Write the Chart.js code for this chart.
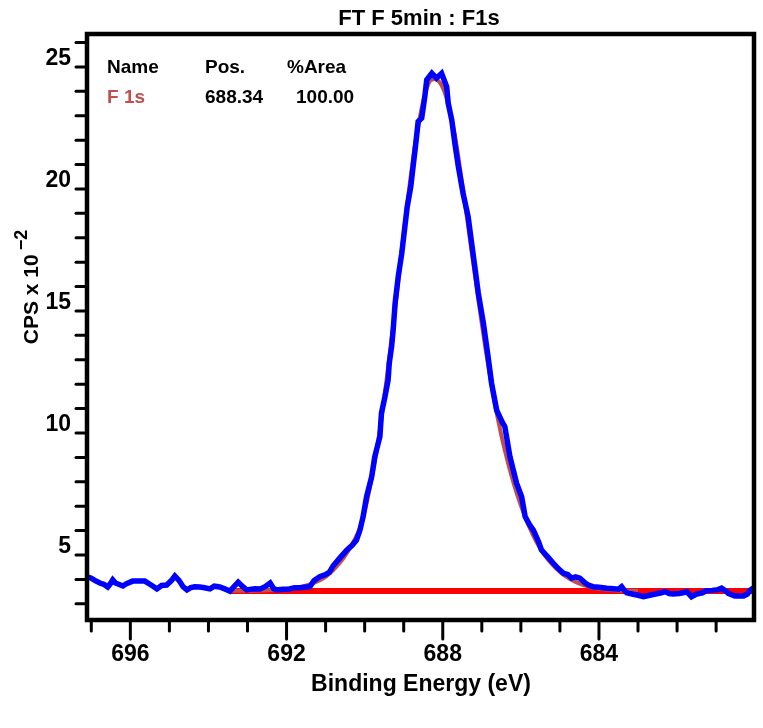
<!DOCTYPE html>
<html lang="en">
<head>
    <meta charset="UTF-8">
    <title>FT F 5min : F1s</title>
    <script src="https://cdn.jsdelivr.net/npm/chart.js@4.4.0/dist/chart.umd.min.js"></script>
    <style>
        body {
            margin: 0;
            background: #ffffff;
        }
        .chart-box {
            position: relative;
            width: 763px;
            height: 728px;
        }
    </style>
</head>
<body>
    <div class="chart-box">
        <canvas id="xpsChart"></canvas>
    </div>

    <script>
        // measured spectrum (blue)
        const energy = [
            697.10, 697.00, 696.90, 696.78, 696.68, 696.58, 696.50, 696.45, 696.38, 696.30,
            696.19, 696.10, 695.94, 695.80, 695.63, 695.50, 695.40, 695.32, 695.20, 695.07,
            694.95, 694.86, 694.75, 694.65, 694.55, 694.45, 694.35, 694.22, 694.10, 693.96,
            693.85, 693.71, 693.60, 693.45, 693.35, 693.24, 693.12, 693.02, 692.90, 692.80,
            692.68, 692.55, 692.42, 692.33, 692.25, 692.10, 691.92, 691.80, 691.65, 691.50,
            691.40, 691.30, 691.15, 691.00, 690.90, 690.81, 690.65, 690.46, 690.32, 690.21,
            690.12, 690.04, 689.95, 689.82, 689.74, 689.61, 689.57, 689.48, 689.40, 689.37,
            689.31, 689.27, 689.22, 689.14, 689.05, 688.97, 688.91, 688.82, 688.76, 688.69,
            688.63, 688.54, 688.46, 688.41, 688.28, 688.16, 688.03, 687.90, 687.86, 687.77,
            687.69, 687.60, 687.48, 687.35, 687.26, 687.18, 687.09, 686.96, 686.84, 686.75,
            686.62, 686.48, 686.41, 686.28, 686.11, 685.98, 685.89, 685.78, 685.68, 685.55,
            685.47, 685.30, 685.17, 685.05, 684.91, 684.80, 684.70, 684.60, 684.49, 684.35,
            684.25, 684.15, 684.00, 683.80, 683.62, 683.50, 683.42, 683.35, 683.29, 683.15,
            683.00, 682.86, 682.70, 682.55, 682.40, 682.31, 682.20, 682.10, 681.95, 681.85,
            681.75, 681.63, 681.50, 681.35, 681.24, 681.10, 680.95, 680.86, 680.75, 680.69,
            680.52, 680.40, 680.30, 680.20, 680.13, 680.05
        ];
        const cps = [
            4.10, 4.05, 3.95, 3.85, 3.80, 3.69, 3.85, 3.98, 3.85, 3.80,
            3.73, 3.82, 3.93, 3.93, 3.93, 3.80, 3.70, 3.61, 3.75, 3.77,
            3.95, 4.14, 3.95, 3.70, 3.57, 3.66, 3.70, 3.69, 3.66, 3.61,
            3.72, 3.69, 3.62, 3.52, 3.70, 3.89, 3.70, 3.57, 3.60, 3.62,
            3.61, 3.70, 3.85, 3.62, 3.57, 3.60, 3.61, 3.66, 3.66, 3.69,
            3.70, 3.95, 4.11, 4.20, 4.30, 4.55, 4.85, 5.20, 5.40, 5.61,
            6.02, 6.57, 7.39, 8.21, 9.03, 9.85, 10.81, 11.49, 12.17, 12.86,
            13.54, 14.22, 15.32, 16.41, 17.36, 18.45, 19.27, 20.09, 20.91, 21.87,
            22.76, 22.90, 23.78, 24.47, 24.74, 24.54, 24.74, 24.19, 23.51, 22.83,
            21.87, 20.91, 19.82, 18.86, 17.77, 16.82, 15.73, 14.50, 13.13, 12.04,
            10.94, 10.45, 10.26, 9.03, 7.94, 7.39, 6.57, 6.25, 6.02, 5.55,
            5.20, 4.90, 4.66, 4.45, 4.25, 4.20, 4.05, 4.10, 4.05, 3.85,
            3.75, 3.70, 3.68, 3.64, 3.62, 3.60, 3.70, 3.55, 3.45, 3.40,
            3.35, 3.29, 3.35, 3.40, 3.45, 3.50, 3.42, 3.40, 3.42, 3.45,
            3.50, 3.29, 3.40, 3.45, 3.54, 3.55, 3.58, 3.64, 3.52, 3.43,
            3.32, 3.32, 3.32, 3.40, 3.56, 3.65
        ];

        // fitted F 1s component
        const fitEnergy = [
            693.45, 692.50, 691.80, 691.40, 691.00, 690.60, 690.30, 690.10, 689.90, 689.70,
            689.50, 689.30, 689.10, 688.90, 688.70, 688.50, 688.34, 688.20, 688.05, 687.90,
            687.70, 687.50, 687.30, 687.10, 686.90, 686.70, 686.50, 686.30, 686.10, 685.90,
            685.70, 685.50, 685.30, 685.10, 684.90, 684.60, 684.30, 684.00, 683.60, 683.00
        ];
        const fitCps = [
            3.53, 3.56, 3.65, 3.80, 4.10, 4.75, 5.50, 6.20, 7.50, 9.20,
            11.40, 14.00, 16.80, 19.50, 21.90, 23.60, 24.40, 24.50, 24.30, 23.70,
            22.30, 20.20, 17.90, 15.60, 13.40, 11.50, 9.90, 8.60, 7.50, 6.60,
            5.85, 5.25, 4.80, 4.45, 4.18, 3.90, 3.72, 3.62, 3.56, 3.53
        ];

        // background line
        const bgEnergy = [693.45, 680.03];
        const bgCps = [3.52, 3.52];

        const xTickValues = [697, 696, 695, 694, 693, 692, 691, 690, 689, 688, 687, 686, 685, 684, 683, 682, 681];
        const xLabelValues = [696, 692, 688, 684];
        const yTickValues = [3, 4, 5, 6, 7, 8, 9, 10, 11, 12, 13, 14, 15, 16, 17, 18, 19, 20, 21, 22, 23, 24, 25, 26];
        const yLabelValues = [5, 10, 15, 20, 25];

        const legendHeaders = ['Name', 'Pos.', '%Area'];
        const peakNames = ['F 1s'];
        const peakPositions = ['688.34'];
        const peakAreas = ['100.00'];

        const chartTitle = 'FT F 5min : F1s';
        const xTitle = 'Binding Energy (eV)';
        const yTitle = 'CPS x 10';
        const yTitleExp = '\u22122';

        const FONT = '"Liberation Sans", Arial, sans-serif';

        function toPoints(xs, ys) {
            return xs.map((x, i) => ({ x: x, y: ys[i] }));
        }

        // frame, tick marks, titles and peak table
        const decorations = {
            id: 'decorations',
            afterDraw(chart) {
                const ctx = chart.ctx;
                const area = chart.chartArea;
                const xs = chart.scales.x;
                const ys = chart.scales.y;

                ctx.save();
                ctx.strokeStyle = '#000';
                ctx.lineCap = 'round';
                ctx.lineWidth = 3;

                xTickValues.forEach(v => {
                    const px = xs.getPixelForValue(v);
                    const len = xLabelValues.includes(v) ? 19 : 11;
                    ctx.beginPath();
                    ctx.moveTo(px, area.bottom);
                    ctx.lineTo(px, area.bottom + len);
                    ctx.stroke();
                });
                yTickValues.forEach(v => {
                    const py = ys.getPixelForValue(v);
                    ctx.beginPath();
                    ctx.moveTo(area.left, py);
                    ctx.lineTo(area.left - 11, py);
                    ctx.stroke();
                });

                ctx.lineCap = 'square';
                ctx.lineWidth = 4.5;
                ctx.strokeRect(area.left, area.top, area.right - area.left, area.bottom - area.top);

                ctx.fillStyle = '#000';
                ctx.textBaseline = 'alphabetic';

                // main title
                ctx.font = 'bold 22px ' + FONT;
                ctx.textAlign = 'center';
                ctx.fillText(chartTitle, 419, 25);

                // x title
                ctx.font = 'bold 23px ' + FONT;
                ctx.fillText(xTitle, 421, 691);

                // y title with exponent
                ctx.save();
                ctx.translate(38, 287);
                ctx.rotate(-Math.PI / 2);
                ctx.font = 'bold 21px ' + FONT;
                const w1 = ctx.measureText(yTitle).width;
                ctx.font = 'bold 18px ' + FONT;
                const w2 = ctx.measureText(yTitleExp).width;
                const start = -(w1 + w2 + 4) / 2;
                ctx.textAlign = 'left';
                ctx.font = 'bold 21px ' + FONT;
                ctx.fillText(yTitle, start, 0);
                ctx.font = 'bold 18px ' + FONT;
                ctx.fillText(yTitleExp, start + w1 + 4, -11);
                ctx.restore();

                // peak table
                ctx.textAlign = 'left';
                ctx.font = 'bold 19px ' + FONT;
                const cols = [107, 205, 287];
                legendHeaders.forEach((h, i) => ctx.fillText(h, cols[i], 73));
                peakNames.forEach((name, r) => {
                    const y = 103 + r * 30;
                    ctx.fillStyle = '#c0504d';
                    ctx.fillText(name, cols[0], y);
                    ctx.fillStyle = '#000';
                    ctx.fillText(peakPositions[r], cols[1], y);
                    ctx.fillText(peakAreas[r], cols[2] + 9, y);
                });
                ctx.restore();
            }
        };

        new Chart(document.getElementById('xpsChart'), {
            type: 'line',
            data: {
                datasets: [
                    {
                        label: 'Spectrum',
                        data: toPoints(energy, cps),
                        borderColor: '#0000ff',
                        borderWidth: 5.5,
                        pointRadius: 0,
                        tension: 0
                    },
                    {
                        label: 'F 1s',
                        data: toPoints(fitEnergy, fitCps),
                        borderColor: '#c0504d',
                        borderWidth: 4,
                        pointRadius: 0,
                        tension: 0.3
                    },
                    {
                        label: 'Background',
                        data: toPoints(bgEnergy, bgCps),
                        borderColor: '#ff0000',
                        borderWidth: 6,
                        pointRadius: 0,
                        tension: 0
                    }
                ]
            },
            options: {
                responsive: true,
                maintainAspectRatio: false,
                animation: false,
                layout: {
                    padding: { top: 34, right: 9, left: 0, bottom: 0 }
                },
                plugins: {
                    legend: { display: false },
                    title: { display: false },
                    tooltip: { enabled: false }
                },
                scales: {
                    x: {
                        type: 'linear',
                        reverse: true,
                        min: 680.03,
                        max: 697.11,
                        afterBuildTicks: scale => {
                            scale.ticks = xTickValues.map(v => ({ value: v }));
                        },
                        afterFit: scale => {
                            scale.height = 108;
                        },
                        grid: { display: false, drawTicks: false },
                        border: { display: false },
                        ticks: {
                            autoSkip: false,
                            maxRotation: 0,
                            padding: 21,
                            color: '#000',
                            font: { family: FONT, size: 23, weight: 'bold' },
                            callback: v => xLabelValues.includes(v) ? String(v) : ''
                        }
                    },
                    y: {
                        type: 'linear',
                        min: 2.336,
                        max: 26.35,
                        afterBuildTicks: scale => {
                            scale.ticks = yTickValues.map(v => ({ value: v }));
                        },
                        afterFit: scale => {
                            scale.width = 87;
                        },
                        grid: { display: false, drawTicks: false },
                        border: { display: false },
                        ticks: {
                            autoSkip: false,
                            padding: 16,
                            labelOffset: -8,
                            color: '#000',
                            font: { family: FONT, size: 23, weight: 'bold' },
                            callback: v => yLabelValues.includes(v) ? String(v) : ''
                        }
                    }
                }
            },
            plugins: [decorations]
        });
    </script>
</body>
</html>
